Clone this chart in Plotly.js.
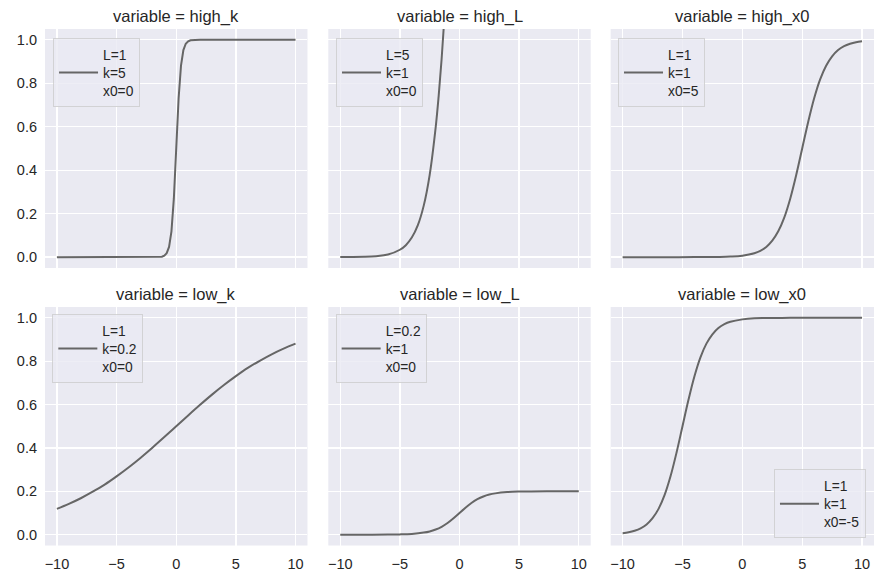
<!DOCTYPE html>
<html>
<head>
<meta charset="utf-8">
<script src="https://cdn.plot.ly/plotly-3.0.1.min.js"></script>
<style>html,body{margin:0;padding:0;background:#fff;}#chart{width:884px;height:583px;}</style>
</head>
<body>
<div id="chart"></div>
<script>
// Panel names and legend labels
const panels = ["high_k", "high_L", "high_x0", "low_k", "low_L", "low_x0"];
const legendLabels = ["L=1<br>k=5<br>x0=0", "L=5<br>k=1<br>x0=0", "L=1<br>k=1<br>x0=5",
                      "L=1<br>k=0.2<br>x0=0", "L=0.2<br>k=1<br>x0=0", "L=1<br>k=1<br>x0=-5"];

// Series values
const highK_x = [-10, -2, -1.5, -1.2, -1.0, -0.8, -0.6, -0.4, -0.2, 0, 0.2, 0.4, 0.6, 0.8, 1.0, 1.2, 1.5, 2, 10];
const highK_y = [0, 0, 0.001, 0.002, 0.007, 0.018, 0.047, 0.119, 0.269, 0.5, 0.731, 0.881, 0.953, 0.982, 0.993, 0.998, 0.999, 1.0, 1.0];

const highL_x = [-10, -9, -8, -7, -6, -5, -4.5, -4, -3.5, -3, -2.5, -2, -1.75, -1.5, -1.25, -1, -0.5, 0, 0.5, 1, 2, 3, 4, 5, 6, 8, 10];
const highL_y = [0.0002, 0.0006, 0.0017, 0.0046, 0.012, 0.034, 0.055, 0.090, 0.146, 0.237, 0.379, 0.596, 0.740, 0.912, 1.116, 1.345, 1.878, 2.5, 3.122, 3.655, 4.404, 4.763, 4.910, 4.966, 4.988, 4.998, 5.0];

const highX0_x = [-10, -8, -6, -4, -3, -2, -1, 0, 1, 1.5, 2, 2.5, 3, 3.5, 4, 4.5, 5, 5.5, 6, 6.5, 7, 7.5, 8, 8.5, 9, 9.5, 10];
const highX0_y = [0, 0, 0, 0.0001, 0.0003, 0.0009, 0.0025, 0.0067, 0.018, 0.029, 0.047, 0.076, 0.119, 0.182, 0.269, 0.378, 0.5, 0.622, 0.731, 0.818, 0.881, 0.924, 0.953, 0.971, 0.982, 0.989, 0.993];

const lowK_x = [-10, -9, -8, -7, -6, -5, -4, -3, -2, -1, 0, 1, 2, 3, 4, 5, 6, 7, 8, 9, 10];
const lowK_y = [0.119, 0.142, 0.168, 0.198, 0.231, 0.269, 0.310, 0.354, 0.401, 0.450, 0.5, 0.550, 0.599, 0.646, 0.690, 0.731, 0.769, 0.802, 0.832, 0.858, 0.881];

const lowL_x = [-10, -8, -6, -5, -4, -3, -2.5, -2, -1.5, -1, -0.5, 0, 0.5, 1, 1.5, 2, 2.5, 3, 4, 5, 6, 8, 10];
const lowL_y = [0, 0, 0.0005, 0.0013, 0.0036, 0.0095, 0.015, 0.0238, 0.0365, 0.0538, 0.0755, 0.1, 0.1245, 0.1462, 0.1635, 0.1762, 0.185, 0.1905, 0.1964, 0.1987, 0.1995, 0.1999, 0.2];

const lowX0_x = [-10, -9.5, -9, -8.5, -8, -7.5, -7, -6.5, -6, -5.5, -5, -4.5, -4, -3.5, -3, -2.5, -2, -1.5, -1, 0, 1, 2, 4, 6, 8, 10];
const lowX0_y = [0.007, 0.011, 0.018, 0.029, 0.047, 0.076, 0.119, 0.182, 0.269, 0.378, 0.5, 0.622, 0.731, 0.818, 0.881, 0.924, 0.953, 0.971, 0.982, 0.993, 0.998, 0.999, 1.0, 1.0, 1.0, 1.0];

const xTicks = [-10, -5, 0, 5, 10];
const yTicks = [0, 0.2, 0.4, 0.6, 0.8, 1.0];

const seriesX = [highK_x, highL_x, highX0_x, lowK_x, lowL_x, lowX0_x];
const seriesY = [highK_y, highL_y, highX0_y, lowK_y, lowL_y, lowX0_y];
const shapes = ["linear", "spline", "spline", "spline", "spline", "spline"];

const colDom = [[0.0509, 0.3478], [0.3714, 0.6682], [0.6908, 0.9887]];
const rowDom = [[0.5403, 0.9503], [0.0643, 0.4734]];
const legPos = [
  {x: 0.0600, y: 0.9348, xanchor: "left", yanchor: "top"},
  {x: 0.3801, y: 0.9348, xanchor: "left", yanchor: "top"},
  {x: 0.6991, y: 0.9348, xanchor: "left", yanchor: "top"},
  {x: 0.0592, y: 0.4614, xanchor: "left", yanchor: "top"},
  {x: 0.3797, y: 0.4614, xanchor: "left", yanchor: "top"},
  {x: 0.9796, y: 0.0767, xanchor: "right", yanchor: "bottom"}
];

const FONT = "Liberation Sans, Arial, sans-serif";
const TXT = "#262626";
const traces = [];
const layout = {
  width: 884, height: 583,
  margin: {l: 0, r: 0, t: 0, b: 0},
  paper_bgcolor: "#ffffff",
  plot_bgcolor: "#EAEAF2",
  font: {family: FONT, color: TXT, size: 14.5},
  annotations: [],
  showlegend: true
};

for (let i = 0; i < 6; i++) {
  const r = Math.floor(i / 3), c = i % 3;
  const n = i + 1;
  const xa = n === 1 ? "xaxis" : "xaxis" + n;
  const ya = n === 1 ? "yaxis" : "yaxis" + n;
  const lg = n === 1 ? "legend" : "legend" + n;
  traces.push({
    x: seriesX[i], y: seriesY[i],
    type: "scatter", mode: "lines",
    name: legendLabels[i],
    line: {color: "#666666", width: 2, shape: shapes[i]},
    xaxis: n === 1 ? "x" : "x" + n,
    yaxis: n === 1 ? "y" : "y" + n,
    legend: lg,
    showlegend: true,
    hoverinfo: "skip"
  });
  layout[xa] = {
    domain: colDom[c], range: [-11, 11],
    tickvals: xTicks, ticktext: xTicks.map(v => v < 0 ? "\u2212" + Math.abs(v) : String(v)),
    showticklabels: r === 1, ticks: "", showline: false, zeroline: false,
    showgrid: true, gridcolor: "#ffffff", gridwidth: 1.3,
    tickfont: {family: FONT, size: 14.5, color: TXT},
    ticklabelstandoff: 8,
    anchor: n === 1 ? "y" : "y" + n, fixedrange: true
  };
  layout[ya] = {
    domain: rowDom[r], range: [-0.05, 1.05],
    tickvals: yTicks, ticktext: yTicks.map(v => v.toFixed(1)),
    showticklabels: c === 0, ticks: "", showline: false, zeroline: false,
    showgrid: true, gridcolor: "#ffffff", gridwidth: 1.3,
    tickfont: {family: FONT, size: 14.5, color: TXT},
    ticklabelstandoff: 7,
    anchor: n === 1 ? "x" : "x" + n, fixedrange: true
  };
  layout[lg] = Object.assign({
    xref: "paper", yref: "paper",
    bgcolor: "rgba(234,234,242,0.8)",
    bordercolor: "rgba(204,204,204,0.8)", borderwidth: 1,
    font: {family: FONT, size: 13.8, color: TXT},
    itemwidth: 39, tracegroupgap: 0
  }, legPos[i]);
  layout.annotations.push({
    text: "variable = " + panels[i],
    xref: "paper", yref: "paper",
    x: (colDom[c][0] + colDom[c][1]) / 2, y: rowDom[r][1],
    xanchor: "center", yanchor: "bottom", yshift: 1,
    showarrow: false,
    font: {family: FONT, size: 16.5, color: TXT}
  });
}

Plotly.newPlot("chart", traces, layout, {displayModeBar: false, staticPlot: true});
</script>
</body>
</html>
